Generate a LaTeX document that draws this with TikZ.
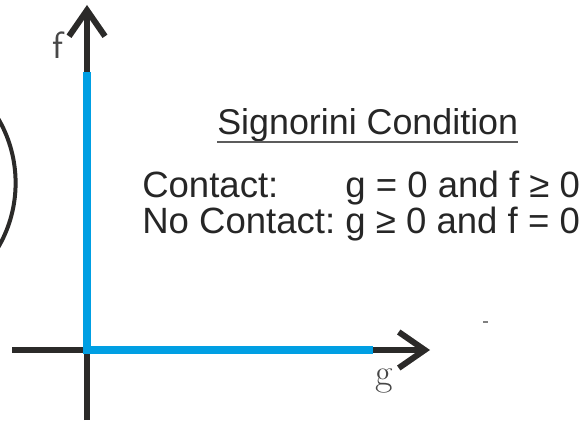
\documentclass[tikz,border=0pt]{standalone}
\usepackage{fontspec}
\newfontfamily\arialfont{Liberation Sans}
\usepackage{xcolor}
\definecolor{axisblack}{HTML}{2B2A29}
\definecolor{signblue}{HTML}{009FE3}
\definecolor{textdark}{HTML}{262626}
\usetikzlibrary{arrows.meta, positioning, calc}

\begin{document}
\begin{tikzpicture}[
  axis/.style={draw=axisblack, line width=1.5mm, -{Straight Barb[length=6.5mm, width=9mm]}},
  admissible/.style={draw=signblue, line width=2mm, line join=miter},
  varlabel/.style={text=textdark!85, font=\fontsize{27}{27}\selectfont, inner sep=0pt},
  heading/.style={text=textdark, font=\arialfont\fontsize{25.5}{26}\selectfont, inner sep=0pt},
  condtext/.style={text=textdark, font=\arialfont\fontsize{26}{24.9}\selectfont, inner sep=0pt}
]
  \useasboundingbox (0,0) rectangle (14.55,10.5);
  \clip (0,0) rectangle (14.55,10.5);

  % body in contact
  \draw[axisblack, line width=1mm] (-2.8,5.925) circle (3.19);

  % axes
  \coordinate (O) at (2.175,1.75);
  \coordinate (fbot) at (2.175,0);
  \coordinate (ftip) at (2.175,10.375);
  \coordinate (gleft) at (0.3,1.75);
  \coordinate (gtip) at (10.75,1.75);
  \coordinate (fend) at (2.175,8.7);
  \coordinate (gend) at (9.325,1.75);
  \draw[axis] (fbot) -- (ftip);
  \draw[axis] (gleft) -- (gtip);

  % admissible set
  \draw[admissible] (fend) -- (O) -- (gend);

  \node[varlabel, font=\sffamily\fontsize{27}{27}\selectfont, anchor=base] (flabel) at (1.45,9.025) {f};
  \node[varlabel, anchor=base] (glabel) at (9.6,0.875) {g};

  \node[heading, anchor=base west] (title) at (5.425,7.125) {Signorini Condition};
  \draw[textdark!75, line width=0.5mm]
    ([yshift=-1.75mm]title.base west) -- ([yshift=-1.75mm]title.base east);

  \node[condtext, anchor=base west] (cond) at (3.55,5.575)
    {\begin{tabular}[t]{@{}l@{\ }l@{}}
      Contact: & g = 0 and f ≥ 0\\
      No Contact: & g ≥ 0 and f = 0
    \end{tabular}};

  \draw[gray, line width=0.3mm] (12.075,2.45) -- ++(0.125,0);
\end{tikzpicture}
\end{document}
